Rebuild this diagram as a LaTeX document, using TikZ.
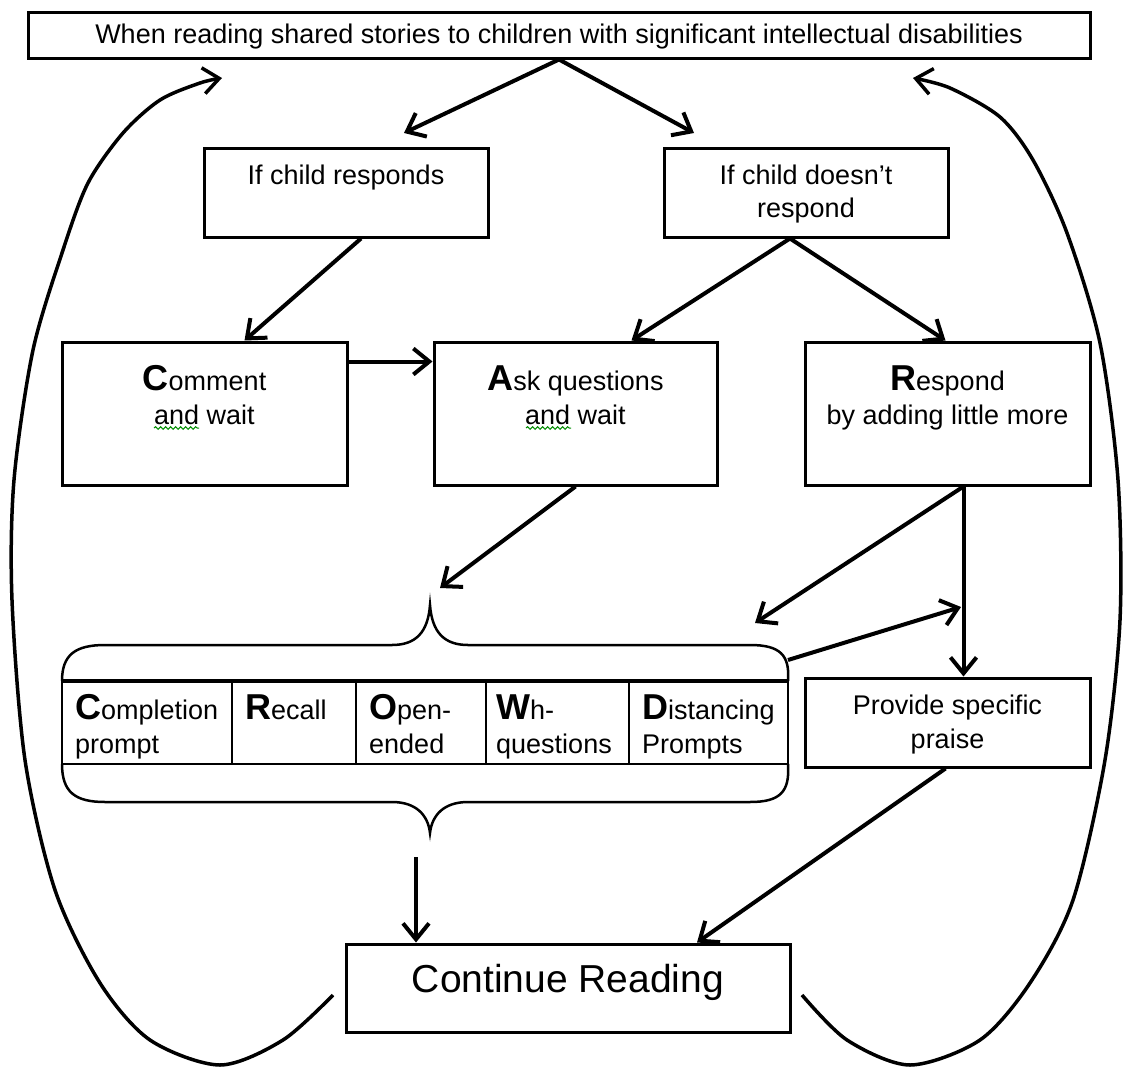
\documentclass[tikz,border=0pt]{standalone}
\usepackage{fontspec}
\setmainfont{Liberation Sans}
\usetikzlibrary{arrows.meta}
\usetikzlibrary{decorations.pathmorphing}

\newcommand\bigini[1]{{\fontsize{36}{34}\selectfont\bfseries #1}}
\newcommand\tstrut{\rule{0pt}{30pt}}

\tikzset{
  box/.style={draw, line width=3pt, inner sep=0pt},
  txt/.style={anchor=north, inner sep=0pt, align=center, font=\fontsize{27}{34}\selectfont},
  celltxt/.style={txt, anchor=north west, align=left},
  cell/.style={draw, line width=1.5pt, anchor=north west, minimum height=83pt, inner sep=0pt, outer sep=0pt},
  flow/.style={-{Straight Barb[length=16pt,width=26pt]}, line width=4pt},
  loopback/.style={flow, line width=3.5pt},
  brace/.style={line width=2.5pt},
  squiggle/.style={green!55!black, line width=1pt, decorate, decoration={snake, amplitude=1.3pt, segment length=5pt}}
}

\begin{document}
\begin{tikzpicture}[x=1pt, y=-1pt]
  \useasboundingbox (0,0) rectangle (1130,1071);

  \node[box, minimum width=1062pt, minimum height=46pt] (top) at (559,35) {};
  \node[txt] (topT) at (559,13) {\tstrut When reading shared stories to children with significant intellectual disabilities};

  \node[box, minimum width=284pt, minimum height=89pt] (resp) at (346,192.5) {};
  \node[txt] (respT) at (346,154) {\tstrut If child responds};
  \node[box, minimum width=284pt, minimum height=89pt] (noresp) at (806,192.5) {};
  \node[txt, font=\fontsize{27}{33}\selectfont] (norespT) at (806,154) {\tstrut If child doesn’t\\respond};

  \node[box, minimum width=285pt, minimum height=143pt] (comment) at (204.5,413.5) {};
  \node[txt] (commentT) at (204.5,360) {\tstrut\bigini{C}omment\\and wait};
  \node[box, minimum width=283pt, minimum height=143pt] (ask) at (575.5,413.5) {};
  \node[txt] (askT) at (575.5,360) {\tstrut\bigini{A}sk questions\\and wait};
  \node[box, minimum width=285pt, minimum height=143pt] (respond) at (947.5,413.5) {};
  \node[txt] (respondT) at (947.5,360) {\tstrut\bigini{R}espond\\by adding little more};
  \draw[squiggle] (154,428) -- (199,428);
  \draw[squiggle] (526,428) -- (571,428);

  \node[cell, minimum width=170pt] (cp) at (62,681) {};
  \node[cell, minimum width=124pt] (rc) at (cp.north east) {};
  \node[cell, minimum width=130pt] (oe) at (rc.north east) {};
  \node[cell, minimum width=143pt] (wh) at (oe.north east) {};
  \node[cell, minimum width=159pt] (dp) at (wh.north east) {};
  \draw[line width=3.5pt] (cp.north west) -- (dp.north east);
  \node[celltxt] (cpT) at ([xshift=13pt,yshift=-8pt]cp.north west) {\tstrut\bigini{C}ompletion\\prompt};
  \node[celltxt] (rcT) at ([xshift=13pt,yshift=-8pt]rc.north west) {\tstrut\bigini{R}ecall};
  \node[celltxt] (oeT) at ([xshift=13pt,yshift=-8pt]oe.north west) {\tstrut\bigini{O}pen-\\ended};
  \node[celltxt] (whT) at ([xshift=10pt,yshift=-8pt]wh.north west) {\tstrut\bigini{W}h-\\questions};
  \node[celltxt] (dpT) at ([xshift=13pt,yshift=-8pt]dp.north west) {\tstrut\bigini{D}istancing\\Prompts};

  \coordinate (ttip) at (430,605);
  \coordinate (btip) at (430,833);
  \draw[brace] (cp.north west) .. controls (62,655) and (75,645) .. (105,645) -- (392,645)
    .. controls (416,645) and (428,632) .. (ttip) .. controls (432,632) and (444,645) .. (468,645)
    -- (750,645) .. controls (780,645) and (790,655) .. (dp.north east);
  \draw[brace] (cp.south west) .. controls (62,792) and (75,802) .. (105,802) -- (392,802)
    .. controls (416,802) and (428,815) .. (btip) .. controls (432,815) and (444,802) .. (468,802)
    -- (750,802) .. controls (780,802) and (790,792) .. (dp.south east);

  \node[box, minimum width=285pt, minimum height=89pt] (praise) at (947.5,722.5) {};
  \node[txt] (praiseT) at (947.5,684) {\tstrut Provide specific\\praise};

  \node[box, minimum width=444pt, minimum height=88pt] (cont) at (568,988) {};
  \node[txt, font=\fontsize{39}{40}\selectfont] (contT) at (568,962) {\tstrut Continue Reading};

  \coordinate (rl) at (404,133);
  \coordinate (rr) at (694,133);
  \coordinate (ttop) at (440,588);
  \coordinate (rside) at (755,623);
  \coordinate (bend) at (788,660);
  \coordinate (vjoin) at (961,607);
  \coordinate (tbot) at (416,857);
  \coordinate (lstart) at (333,995);
  \coordinate (lend) at (222,78);
  \coordinate (rstart) at (802,995);
  \coordinate (rend) at (913,78);

  \draw[flow] (top.south) -- (rl);
  \draw[flow] (top.south) -- (rr);
  \draw[flow] ([xshift=15pt]resp.south) -- ([xshift=40pt]comment.north);
  \draw[flow] ([xshift=-16pt]noresp.south) -- ([xshift=56pt]ask.north);
  \draw[flow] ([xshift=-16pt]noresp.south) -- ([xshift=-2pt]respond.north);
  \draw[flow] ([yshift=52pt]comment.east) -- ([yshift=52pt]ask.west);
  \draw[flow] (ask.south) -- (ttop);
  \draw[flow] ([xshift=16pt]respond.south) -- (rside);
  \draw[flow] ([xshift=16pt]respond.south) -- ([xshift=16pt]praise.north);
  \draw[flow] (bend) -- (vjoin);
  \draw[flow] (tbot) -- ([xshift=-152pt]cont.north);
  \draw[flow] ([xshift=-2pt]praise.south) -- ([xshift=129pt]cont.north);

  \draw[loopback] plot[smooth] coordinates {(lstart) (283,1040) (220,1065) (150,1040) (100,983) (55,890)
    (25,760) (12,600) (14,480) (33,350) (63,250) (88,183) (123,133) (160,100) (200,83) (lend)};
  \draw[loopback] plot[smooth] coordinates {(rstart) (847,1040) (910,1065) (980,1040) (1030,983) (1073,900)
    (1105,760) (1120,620) (1118,480) (1100,343) (1067,233) (1033,160) (1000,117) (950,88) (rend)};
\end{tikzpicture}
\end{document}
